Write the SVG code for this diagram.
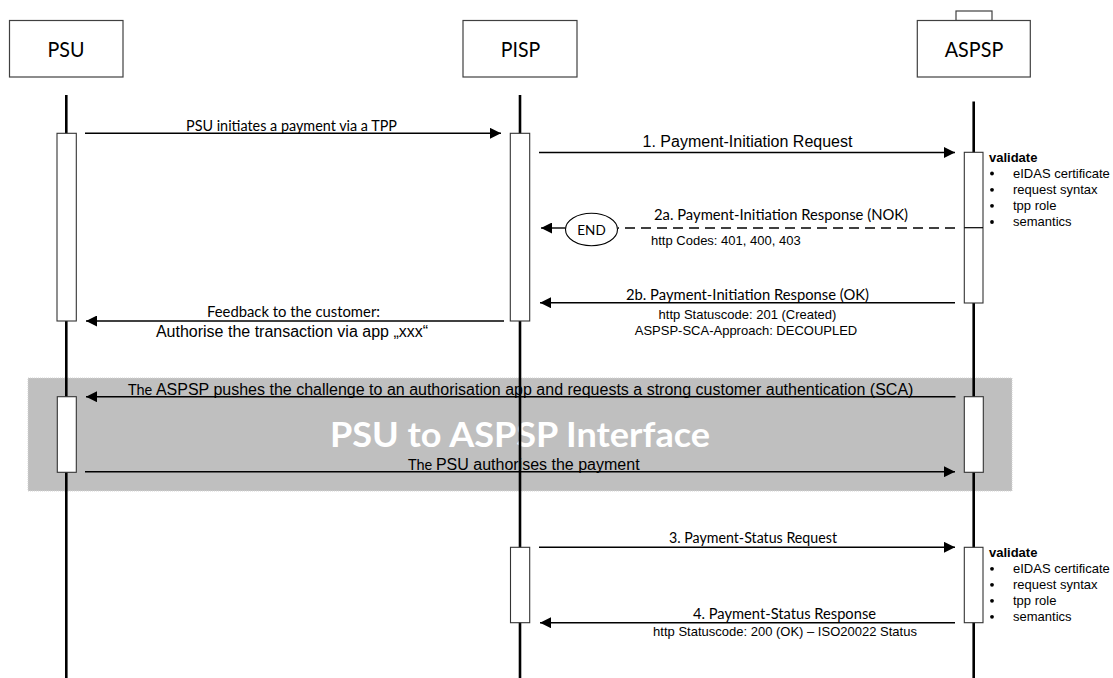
<svg xmlns="http://www.w3.org/2000/svg" width="1113" height="678" viewBox="0 0 1113 678">
<style>
.box{fill:#fff;stroke:#404040;stroke-width:1.2}
.act{fill:#fff;stroke:#333;stroke-width:1.1}
.life{stroke:#000;stroke-width:2.6;fill:none}
.msg{stroke:#000;stroke-width:1.4;fill:none}
.cal{font-family:Lato,"Open Sans",sans-serif;fill:#000}
.ar{font-family:"Liberation Sans",Arial,sans-serif;fill:#000}
.head{font-size:22px}
.lbl{font-size:14.5px}
.a13{font-size:13px}
.a16{font-size:16px}
</style>
<defs>
<marker id="ah" markerWidth="11" markerHeight="11" refX="11" refY="5.5" orient="auto" markerUnits="userSpaceOnUse"><path d="M0,0 L11,5.5 L0,11 z" fill="#000"/></marker>
</defs>
<rect width="1113" height="678" fill="#fff"/>

<g id="band">
<rect x="28" y="378" width="984" height="113" fill="#bfbfbf" stroke="#d4d4d4" stroke-width="1" stroke-dasharray="1 1"/>
<text x="520" y="447" text-anchor="middle" font-family="Lato,'Open Sans',sans-serif" font-weight="bold" font-size="34.5" fill="#fff" textLength="380" lengthAdjust="spacingAndGlyphs">PSU to ASPSP Interface</text>
</g>

<g id="psu">
<rect class="box" x="9.5" y="20.5" width="113.5" height="56.5"/>
<text class="cal head" x="66" y="56.5" text-anchor="middle" textLength="37" lengthAdjust="spacingAndGlyphs">PSU</text>
<line class="life" x1="66.3" y1="95" x2="66.3" y2="678"/>
</g>

<g id="pisp">
<rect class="box" x="463" y="20.5" width="114" height="56.5"/>
<text class="cal head" x="520.5" y="56.5" text-anchor="middle" textLength="39.5" lengthAdjust="spacingAndGlyphs">PISP</text>
<line class="life" x1="520" y1="95" x2="520" y2="678"/>
</g>

<g id="aspsp">
<rect class="box" x="956" y="11" width="36" height="9.5"/>
<rect class="box" x="917.3" y="20.5" width="113" height="56.5"/>
<text class="cal head" x="974" y="56.5" text-anchor="middle" textLength="58.5" lengthAdjust="spacingAndGlyphs">ASPSP</text>
<line class="life" x1="973.7" y1="101.5" x2="973.7" y2="678"/>
</g>

<g id="psu-act1"><rect class="act" x="57" y="133.3" width="19.3" height="187.7"/></g>
<g id="pisp-act1"><rect class="act" x="510.3" y="133.3" width="19.4" height="187.7"/></g>
<g id="aspsp-act1"><rect class="act" x="964.3" y="152.3" width="18.7" height="150.7"/><line x1="964.3" y1="227.7" x2="983" y2="227.7" stroke="#000" stroke-width="1.2"/></g>
<g id="psu-act2"><rect class="act" x="57.3" y="396.7" width="19" height="75.6"/></g>
<g id="aspsp-act2"><rect class="act" x="964.3" y="396.7" width="19" height="75.6"/></g>
<g id="pisp-act3"><rect class="act" x="510.5" y="547.3" width="19.2" height="75.4"/></g>
<g id="aspsp-act3"><rect class="act" x="964.3" y="547.3" width="18.7" height="75.4"/></g>

<g id="end">
<ellipse cx="591.5" cy="229.5" rx="26" ry="16.2" fill="#fff" stroke="#000" stroke-width="1.1"/>
<text class="cal" x="591.5" y="234.5" text-anchor="middle" font-size="13.5">END</text>
</g>

<g id="validate1" class="ar a13">
<text x="989" y="162" font-weight="bold">validate</text>
<circle cx="992" cy="173.5" r="1.9"/><text x="1013" y="177.7">eIDAS certificate</text>
<circle cx="992" cy="189.8" r="1.9"/><text x="1013" y="194">request syntax</text>
<circle cx="992" cy="205.8" r="1.9"/><text x="1013" y="210">tpp role</text>
<circle cx="992" cy="222" r="1.9"/><text x="1013" y="226.3">semantics</text>
</g>
<g id="validate2" class="ar a13">
<text x="989" y="557" font-weight="bold">validate</text>
<circle cx="992" cy="568.8" r="1.9"/><text x="1013" y="573">eIDAS certificate</text>
<circle cx="992" cy="584.8" r="1.9"/><text x="1013" y="589">request syntax</text>
<circle cx="992" cy="600.8" r="1.9"/><text x="1013" y="605">tpp role</text>
<circle cx="992" cy="616.8" r="1.9"/><text x="1013" y="621">semantics</text>
</g>

<g id="connectors">
<line class="msg" x1="85" y1="133.3" x2="501" y2="133.3" marker-end="url(#ah)"/>
<line class="msg" x1="539" y1="152.5" x2="955" y2="152.5" marker-end="url(#ah)"/>
<line class="msg" x1="955" y1="228" x2="618" y2="228" stroke-dasharray="10 6"/>
<line class="msg" x1="565.5" y1="228" x2="541" y2="228" marker-end="url(#ah)"/>
<line class="msg" x1="955" y1="302.7" x2="540" y2="302.7" marker-end="url(#ah)"/>
<line class="msg" x1="504" y1="321" x2="86" y2="321" marker-end="url(#ah)"/>
<line class="msg" x1="955.5" y1="396.7" x2="86" y2="396.7" marker-end="url(#ah)"/>
<line class="msg" x1="85" y1="471.7" x2="955" y2="471.7" marker-end="url(#ah)"/>
<line class="msg" x1="539" y1="547.3" x2="955" y2="547.3" marker-end="url(#ah)"/>
<line class="msg" x1="955" y1="622.7" x2="540" y2="622.7" marker-end="url(#ah)"/>
</g>

<g id="labels">
<text class="cal lbl" x="291.5" y="130.5" text-anchor="middle" textLength="211" lengthAdjust="spacingAndGlyphs">PSU initiates a payment via a TPP</text>
<text class="ar a16" x="747.5" y="147" text-anchor="middle">1. Payment-Initiation Request</text>
<text class="cal lbl" x="781" y="220" text-anchor="middle" textLength="254" lengthAdjust="spacingAndGlyphs">2a. Payment-Initiation Response (NOK)</text>
<text class="ar a13" x="651" y="245">http Codes: 401, 400, 403</text>
<text class="cal lbl" x="747.5" y="299.5" text-anchor="middle" textLength="243" lengthAdjust="spacingAndGlyphs">2b. Payment-Initiation Response (OK)</text>
<text class="ar a13" x="747.5" y="319.3" text-anchor="middle">http Statuscode: 201 (Created)</text>
<text class="ar a13" x="746" y="335.3" text-anchor="middle">ASPSP-SCA-Approach: DECOUPLED</text>
<text class="cal lbl" x="293.5" y="317" text-anchor="middle" textLength="173" lengthAdjust="spacingAndGlyphs">Feedback to the customer:</text>
<text class="ar a16" x="292" y="336.5" text-anchor="middle">Authorise the transaction via app „xxx“</text>
<text x="128" y="394.5"><tspan class="cal" font-size="14.5">The </tspan><tspan class="ar" font-size="16">ASPSP pushes the challenge to an authorisation app and requests a strong customer authentication (SCA)</tspan></text>
<text x="408" y="469.5"><tspan class="cal" font-size="14.5">The </tspan><tspan class="ar" font-size="16">PSU authorises the payment</tspan></text>
<text class="cal lbl" x="753" y="543.3" text-anchor="middle" textLength="168" lengthAdjust="spacingAndGlyphs">3. Payment-Status Request</text>
<text class="cal lbl" x="784.5" y="619.3" text-anchor="middle" textLength="183" lengthAdjust="spacingAndGlyphs">4. Payment-Status Response</text>
<text class="ar a13" x="785" y="636" text-anchor="middle">http Statuscode: 200 (OK) – ISO20022 Status</text>
</g>
</svg>
